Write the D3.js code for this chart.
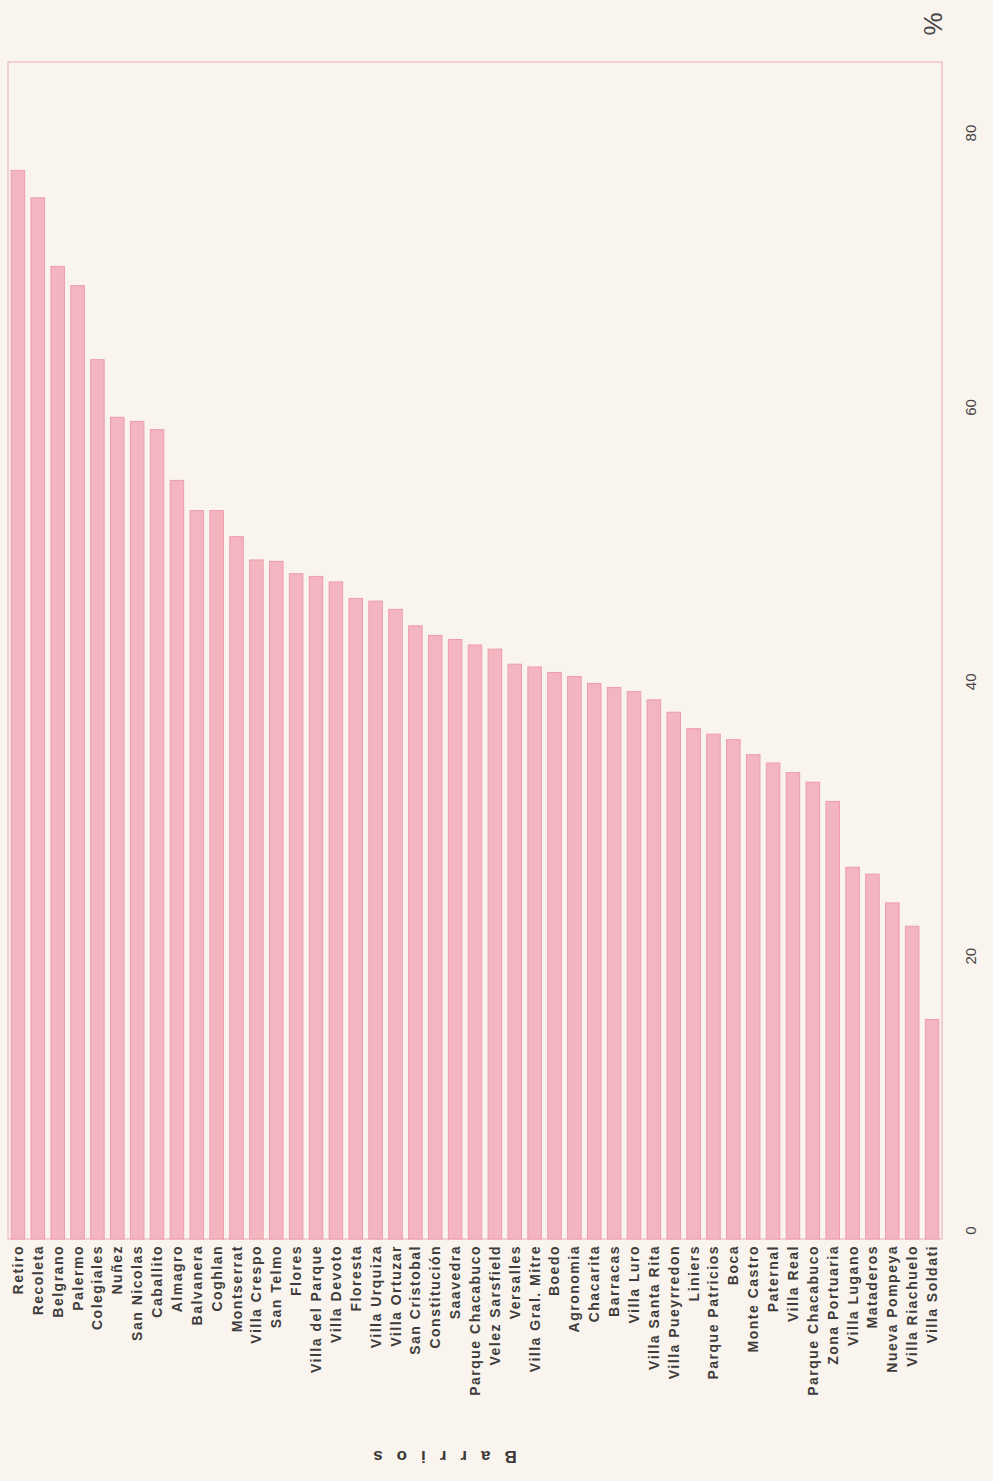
<!DOCTYPE html>
<html>
<head>
<meta charset="utf-8">
<script src="https://cdn.jsdelivr.net/npm/d3@7"></script>
<style>
  html, body { margin: 0; padding: 0; background: #f9f5ee; }
  svg { display: block; }
</style>
</head>
<body>
<div id="chart"></div>
<script>
// Barrios, in the order they appear (Parque Chacabuco shows up twice in the original)
const barrios = [
  'Retiro', 'Recoleta', 'Belgrano', 'Palermo', 'Colegiales', 'Nuñez', 'San Nicolas',
  'Caballito', 'Almagro', 'Balvanera', 'Coghlan', 'Montserrat', 'Villa Crespo',
  'San Telmo', 'Flores', 'Villa del Parque', 'Villa Devoto', 'Floresta', 'Villa Urquiza',
  'Villa Ortuzar', 'San Cristobal', 'Constitución', 'Saavedra', 'Parque Chacabuco',
  'Velez Sarsfield', 'Versalles', 'Villa Gral. Mitre', 'Boedo', 'Agronomia', 'Chacarita',
  'Barracas', 'Villa Luro', 'Villa Santa Rita', 'Villa Pueyrredon', 'Liniers',
  'Parque Patricios', 'Boca', 'Monte Castro', 'Paternal', 'Villa Real',
  'Parque Chacabuco', 'Zona Portuaria', 'Villa Lugano', 'Mataderos', 'Nueva Pompeya',
  'Villa Riachuelo', 'Villa Soldati'
];

// percentage for each barrio
const porcentajes = [
  77.9, 75.9, 70.9, 69.5, 64.1, 59.9, 59.6,
  59.0, 55.3, 53.1, 53.1, 51.2, 49.5,
  49.4, 48.5, 48.3, 47.9, 46.7, 46.5,
  45.9, 44.7, 44.0, 43.7, 43.3,
  43.0, 41.9, 41.7, 41.3, 41.0, 40.5,
  40.2, 39.9, 39.3, 38.4, 37.2,
  36.8, 36.4, 35.3, 34.7, 34.0,
  33.3, 31.9, 27.1, 26.6, 24.5,
  22.8, 16.0
];

const valueTicks = [0, 20, 40, 60, 80];
const valueMax = 85.8;

const width = 993;
const height = 1481;
const plot = { left: 8, right: 942, top: 62, bottom: 1239 };
const fontFamily = '"Liberation Sans", Arial, sans-serif';

const svg = d3.select('#chart').append('svg')
  .attr('width', width)
  .attr('height', height);

svg.append('rect')
  .attr('width', width)
  .attr('height', height)
  .attr('fill', '#f9f5ee');

const x = d3.scaleBand()
  .domain(d3.range(barrios.length))
  .range([plot.left, plot.right])
  .paddingInner(0.32)
  .paddingOuter(0.16);

const y = d3.scaleLinear()
  .domain([0, valueMax])
  .range([plot.bottom, plot.top]);

// frame round the plot
svg.append('rect')
  .attr('x', plot.left)
  .attr('y', plot.top)
  .attr('width', plot.right - plot.left)
  .attr('height', plot.bottom - plot.top)
  .attr('fill', 'none')
  .attr('stroke', '#eeaab4')
  .attr('stroke-width', 1);

// bars
svg.append('g')
  .selectAll('rect')
  .data(porcentajes)
  .join('rect')
  .attr('x', (d, i) => x(i))
  .attr('y', d => y(d))
  .attr('width', x.bandwidth())
  .attr('height', d => y(0) - y(d))
  .attr('fill', '#f3b5bf')
  .attr('stroke', '#ee9cab')
  .attr('stroke-width', 1);

// category labels, reading bottom to top, right aligned against the base
svg.append('g')
  .selectAll('text')
  .data(barrios)
  .join('text')
  .attr('transform', (d, i) => `translate(${x(i) + x.bandwidth() / 2 + 5}, ${plot.bottom + 6}) rotate(-90)`)
  .attr('text-anchor', 'end')
  .style('font-family', fontFamily)
  .style('font-size', '14px')
  .style('font-weight', 'bold')
  .style('letter-spacing', '1.5px')
  .style('fill', '#403c3c')
  .text(d => d);

// value axis on the right
const axis = d3.axisRight(y).tickValues(valueTicks).tickSize(0).tickPadding(0);
const axisG = svg.append('g')
  .attr('transform', `translate(${plot.right + 28}, 0)`)
  .call(axis);
axisG.select('.domain').remove();
axisG.selectAll('text')
  .attr('x', 0)
  .attr('dy', 0)
  .attr('transform', 'translate(6, -9) rotate(-90)')
  .attr('text-anchor', 'middle')
  .style('font-family', fontFamily)
  .style('font-size', '15px')
  .style('fill', '#4a4646');

// unit label
svg.append('text')
  .attr('transform', `translate(${plot.right - 9}, 24) rotate(-90)`)
  .attr('text-anchor', 'middle')
  .attr('dominant-baseline', 'central')
  .style('font-family', fontFamily)
  .style('font-size', '26px')
  .style('fill', '#4a4646')
  .text('%');

// axis title, upside down as in the scan
svg.append('text')
  .attr('transform', 'translate(438, 1456) rotate(180)')
  .attr('text-anchor', 'middle')
  .attr('dominant-baseline', 'central')
  .style('font-family', fontFamily)
  .style('font-size', '17px')
  .style('font-weight', 'bold')
  .style('letter-spacing', '14px')
  .style('fill', '#3b3838')
  .text('Barrios');
</script>
</body>
</html>
